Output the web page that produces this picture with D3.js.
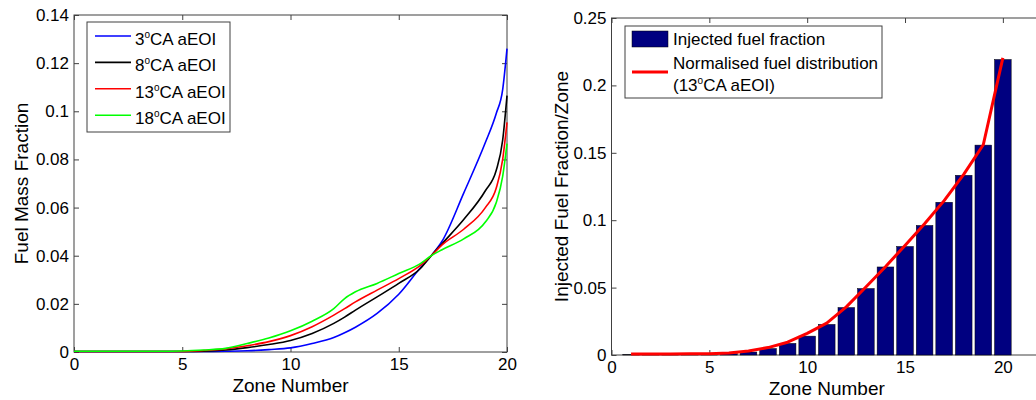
<!DOCTYPE html>
<html>
<head>
<meta charset="utf-8">
<script src="https://cdn.jsdelivr.net/npm/d3@7"></script>
<style>
  body { margin: 0; background: #fff; }
  svg { display: block; font-family: "Liberation Sans", Arial, sans-serif; }
</style>
</head>
<body>
<div id="chart"></div>
<script>
// left panel: fuel mass fraction per zone, 4 timings
const zoneX   = [0,1,2,3,4,5,6,7,8,9,10,11,12,12.5,13,14,15,16,16.5,17,18,19,19.5,19.8,20];
const fmf3    = [0.0002,0.0002,0.0002,0.0002,0.0002,0.0002,0.0002,0.0003,0.0005,0.0010,0.0017,0.0035,0.0060,0.0080,0.0103,0.0160,0.0240,0.0350,0.0400,0.0460,0.0660,0.0870,0.0990,0.1090,0.1260];
const fmf8    = [0.0002,0.0002,0.0002,0.0002,0.0002,0.0002,0.0003,0.0008,0.0018,0.0031,0.0048,0.0077,0.0119,0.0145,0.0174,0.0229,0.0285,0.0347,0.0400,0.0450,0.0550,0.0670,0.0754,0.0880,0.1065];
const fmf13   = [0.0002,0.0002,0.0002,0.0002,0.0002,0.0002,0.0006,0.0013,0.0026,0.0043,0.0068,0.0105,0.0153,0.0180,0.0208,0.0257,0.0305,0.0360,0.0400,0.0445,0.0510,0.0600,0.0680,0.0800,0.0954];
const fmf18   = [0.0003,0.0003,0.0003,0.0003,0.0003,0.0004,0.0008,0.0015,0.0035,0.0058,0.0088,0.0128,0.0180,0.0222,0.0250,0.0285,0.0326,0.0367,0.0400,0.0425,0.0470,0.0540,0.0620,0.0730,0.0866];
const leftSeries = ['3', '8', '13', '18'];
const leftColors = ['#0000ff', '#000000', '#ff0000', '#00ff00'];
const leftXTicks = [0, 5, 10, 15, 20];
const leftYTicks = [0, 0.02, 0.04, 0.06, 0.08, 0.1, 0.12, 0.14];
const leftYLabels = ['0', '0.02', '0.04', '0.06', '0.08', '0.1', '0.12', '0.14'];

// right panel: injected fuel per zone + normalised distribution
const zones    = d3.range(1, 21);
const injected = [0.0002,0.0002,0.0002,0.0003,0.0005,0.0010,0.0022,0.0048,0.0086,0.0140,0.0227,0.0352,0.0493,0.0653,0.0805,0.0961,0.1133,0.1333,0.1557,0.2192];
const normDist = [0.0008,0.0008,0.0008,0.0009,0.0010,0.0015,0.0030,0.0055,0.0095,0.0160,0.0237,0.0357,0.0505,0.0655,0.0813,0.0973,0.1145,0.1340,0.1560,0.2204];
const rightXTicks = [0, 5, 10, 15, 20];
const rightYTicks = [0, 0.05, 0.1, 0.15, 0.2, 0.25];
const rightYLabels = ['0', '0.05', '0.1', '0.15', '0.2', '0.25'];

const W = 1036, H = 400;
const boxColor = '#404040';

const svg = d3.select('#chart').append('svg')
  .attr('width', W)
  .attr('height', H);

function frame(x, y, xTicks, yTicks, yLabels, xLabel, yLabel, yLabelX) {
  const [x0, x1] = x.range();
  const [y1, y0] = y.range();
  const g = svg.append('g');

  g.append('rect')
    .attr('x', x0).attr('y', y0)
    .attr('width', x1 - x0).attr('height', y1 - y0)
    .attr('fill', 'none')
    .attr('stroke', boxColor);

  const styleAxis = sel => {
    sel.select('.domain').remove();
    sel.selectAll('line').attr('stroke', boxColor);
    sel.selectAll('text').attr('fill', '#000').attr('font-size', 17).attr('font-family', null);
  };

  g.append('g').attr('transform', `translate(0,${y1})`)
    .call(d3.axisBottom(x).tickValues(xTicks).tickSize(-5).tickPadding(6).tickFormat(d3.format('d')))
    .call(styleAxis);
  g.append('g').attr('transform', `translate(0,${y0})`)
    .call(d3.axisTop(x).tickValues(xTicks).tickSize(-5).tickFormat(''))
    .call(styleAxis);
  g.append('g').attr('transform', `translate(${x0},0)`)
    .call(d3.axisLeft(y).tickValues(yTicks).tickSize(-5).tickPadding(5).tickFormat((d, i) => yLabels[i]))
    .call(styleAxis);
  g.append('g').attr('transform', `translate(${x1},0)`)
    .call(d3.axisRight(y).tickValues(yTicks).tickSize(-5).tickFormat(''))
    .call(styleAxis);

  g.append('text')
    .attr('x', (x0 + x1) / 2)
    .attr('y', y1 + 40)
    .attr('text-anchor', 'middle')
    .attr('font-size', 19)
    .text(xLabel);

  g.append('text')
    .attr('transform', `translate(${yLabelX},${(y0 + y1) / 2}) rotate(-90)`)
    .attr('text-anchor', 'middle')
    .attr('font-size', 19)
    .text(yLabel);
  return g;
}

// superscript degree "o" inside a text node
function degText(sel, before, after) {
  sel.append('tspan').text(before);
  sel.append('tspan').attr('dy', -7).attr('font-size', 10).text('o');
  sel.append('tspan').attr('dy', 7).text(after);
}

// ---------- left ----------
const xL = d3.scaleLinear().domain([0, 20]).range([74, 507]);
const yL = d3.scaleLinear().domain([0, 0.14]).range([352, 15]);
const gL = frame(xL, yL, leftXTicks, leftYTicks, leftYLabels, 'Zone Number', 'Fuel Mass Fraction', 28);

const lineL = d3.line()
  .curve(d3.curveMonotoneX)
  .x(d => xL(d[0]))
  .y(d => yL(d[1]));

[fmf3, fmf8, fmf13, fmf18].forEach((vals, i) => {
  gL.append('path')
    .attr('fill', 'none')
    .attr('stroke', leftColors[i])
    .attr('stroke-width', 1.6)
    .attr('d', lineL(zoneX.map((z, j) => [z, vals[j]])));
});

const legL = gL.append('g');
legL.append('rect')
  .attr('x', 87).attr('y', 22).attr('width', 143).attr('height', 110)
  .attr('fill', '#fff').attr('stroke', boxColor);
leftSeries.forEach((s, i) => {
  const base = 45 + i * 26.4;
  legL.append('line')
    .attr('x1', 95).attr('x2', 131)
    .attr('y1', base - 9).attr('y2', base - 9)
    .attr('stroke', leftColors[i]).attr('stroke-width', 1.6);
  legL.append('text')
    .attr('x', 135).attr('y', base)
    .attr('font-size', 17)
    .call(degText, s, 'CA aEOI');
});

// ---------- right ----------
const xR = d3.scaleLinear().domain([0, 22]).range([611.5, 1042]);
const yR = d3.scaleLinear().domain([0, 0.25]).range([355, 18]);
const gR = frame(xR, yR, rightXTicks, rightYTicks, rightYLabels, 'Zone Number', 'Injected Fuel Fraction/Zone', 568);

const barW = 0.85;
gR.append('g').selectAll('rect')
  .data(zones)
  .join('rect')
  .attr('x', (d) => xR(d - barW / 2))
  .attr('width', xR(barW) - xR(0))
  .attr('y', (d, i) => yR(injected[i]))
  .attr('height', (d, i) => yR(0) - yR(injected[i]))
  .attr('fill', '#000080')
  .attr('stroke', '#000')
  .attr('stroke-width', 0.5);

gR.append('path')
  .attr('fill', 'none')
  .attr('stroke', '#ff0000')
  .attr('stroke-width', 3)
  .attr('stroke-linejoin', 'round')
  .attr('d', d3.line().x((d, i) => xR(zones[i])).y(d => yR(d))(normDist));

const legR = gR.append('g');
legR.append('rect')
  .attr('x', 625).attr('y', 26).attr('width', 257).attr('height', 72)
  .attr('fill', '#fff').attr('stroke', boxColor);
legR.append('rect')
  .attr('x', 632).attr('y', 31).attr('width', 36).attr('height', 16)
  .attr('fill', '#000080').attr('stroke', '#000').attr('stroke-width', 0.5);
legR.append('text')
  .attr('x', 673).attr('y', 45)
  .attr('font-size', 17)
  .text('Injected fuel fraction');
legR.append('line')
  .attr('x1', 632).attr('x2', 668)
  .attr('y1', 72).attr('y2', 72)
  .attr('stroke', '#ff0000').attr('stroke-width', 3);
legR.append('text')
  .attr('x', 673).attr('y', 69)
  .attr('font-size', 17)
  .text('Normalised fuel distribution');
legR.append('text')
  .attr('x', 673).attr('y', 91)
  .attr('font-size', 17)
  .call(degText, '(13', 'CA aEOI)');
</script>
</body>
</html>
